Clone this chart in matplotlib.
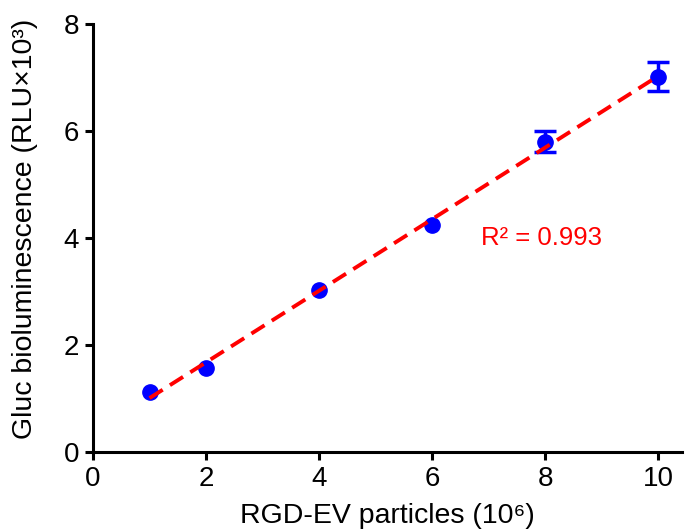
import numpy as np
import matplotlib
matplotlib.use('Agg')
import matplotlib.pyplot as plt

plt.rcParams['font.family'] = ['Liberation Sans', 'DejaVu Sans']

# data
particles = np.array([1, 2, 4, 6, 8, 10])
signal = np.array([1.12, 1.57, 3.03, 4.24, 5.80, 7.01])
signal_err = np.array([0.0, 0.0, 0.0, 0.0, 0.19, 0.27])
r2_text = 'R\u00b2 = 0.993'

fig = plt.figure(figsize=(6.89, 5.30), dpi=100)
ax = fig.add_axes([0.135, 0.147, 0.855, 0.808])

# linear fit line
slope, icpt = np.polyfit(particles, signal, 1)
xs = np.array([particles.min(), particles.max()])
ax.plot(xs, slope * xs + icpt, color='#ff0000', lw=2.8, ls=(0, (4, 2.2)), zorder=3)

ax.plot(particles, signal, 'o', color='#0000ff', ms=11, zorder=2)
has_err = signal_err > 0
ax.errorbar(particles[has_err], signal[has_err], yerr=signal_err[has_err], fmt='none',
            ecolor='#0000ff', elinewidth=2.5, capsize=8, capthick=2.5, zorder=2)

ax.text(6.87, 4.0, r2_text, color='#ff0000', fontsize=18.5, ha='left', va='center')

ax.set_xlim(0, 10.42)
ax.set_ylim(0, 8)
ax.set_xticks([0, 2, 4, 6, 8, 10])
ax.set_yticks([0, 2, 4, 6, 8])
ax.spines['top'].set_visible(False)
ax.spines['right'].set_visible(False)
for s in ['left', 'bottom']:
    ax.spines[s].set_linewidth(2.2)
ax.tick_params(width=2.2, length=6, labelsize=20, direction='out', pad=4)

ax.set_xlabel('RGD-EV particles (10\u2076)', fontsize=20.5, labelpad=8)
ax.set_ylabel('Gluc bioluminescence (RLU\u00d710\u00b3)', fontsize=20.5)
ax.yaxis.set_label_coords(-0.093, 0.521)

fig.savefig('out.png', dpi=100)
